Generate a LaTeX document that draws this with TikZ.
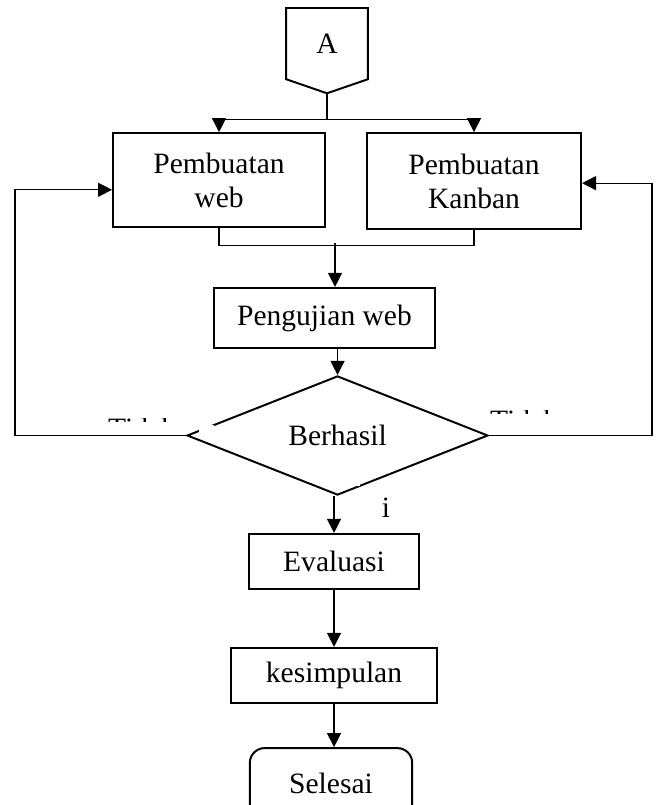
\documentclass[tikz,border=0pt]{standalone}
\usepackage{fontspec}
\setmainfont{Liberation Serif}
\usetikzlibrary{positioning,arrows.meta,shapes.geometric,shapes.symbols,calc}

\begin{document}
\begin{tikzpicture}[
  >={Triangle[length=2.0mm,width=2.0mm]},
  every node/.style={inner sep=2pt},
  basebox/.style={
    rectangle, draw=black, line width=0.8pt,
    align=center, inner sep=0pt,
    font=\fontsize{12}{13.8}\selectfont,
  },
  connbox/.style={basebox, shape=signal, signal to=south,
    signal pointer angle=142,
    minimum width=1.17cm, minimum height=1.07cm},
  procbox/.style={basebox},
  decbox/.style={basebox, shape=diamond,
    minimum width=4.30cm, minimum height=1.50cm},
  endbox/.style={basebox, rounded corners=6pt},
  lbl/.style={inner sep=0pt, font=\fontsize{12}{13.8}\selectfont},
  conn/.style={draw=black, line width=0.5pt},
  arr/.style={->, draw=black, line width=0.5pt},
]
\useasboundingbox (0,0) rectangle (9.403,-11.503);

%---------- nodes (x, y in cm from the top left) ----------
\node[connbox, anchor=north] (A) at (4.673,-0.10) {A};

\node[procbox, minimum width=3.03cm, minimum height=1.34cm] (web)
  at (3.13,-2.572) {Pembuatan\\web};
\node[procbox, minimum width=3.06cm, minimum height=1.37cm] (kanban)
  at (6.773,-2.587) {Pembuatan\\Kanban};

\node[procbox, minimum width=3.16cm, minimum height=0.86cm] (uji)
  at (4.637,-4.544) {Pengujian web};

\node[decbox] (cek) at (4.823,-6.223) {Berhasil};

\node[procbox, minimum width=2.43cm, minimum height=0.79cm] (eval)
  at (4.773,-8.024) {Evaluasi};
\node[procbox, minimum width=2.94cm, minimum height=0.79cm] (simpul)
  at (4.773,-9.653) {kesimpulan};
\node[endbox, minimum width=2.32cm, minimum height=1.00cm] (selesai)
  at (4.73,-11.19) {Selesai};

%---------- arrows ----------
\draw[conn] (A.south) -- ++(0,-0.357) coordinate (split);
\draw[arr] (split) -| (web.north);
\draw[arr] (split) -| (kanban.north);

\draw[conn] (web.south) -- ++(0,-0.256) coordinate (joinl) -| (kanban.south);
\coordinate (joinm) at (4.787,-3.47);
\draw[arr] (joinm) -- (joinm |- uji.north);

\draw[arr] (uji.south -| cek.north) -- (cek.north);

\draw[arr] (cek.west) -- ++(-2.443,0) |- ([yshift=-0.14cm]web.west);
\draw[arr] (cek.east) -- ++(2.33,0) |- ([yshift=-0.03cm]kanban.east);

\draw[arr] (eval.north |- cek.south) -- (eval.north);
\draw[arr] (eval) -- (simpul);
\draw[arr] (simpul.south) -- (simpul.south |- selesai.north);

%---------- branch labels (cut off by their boxes) ----------
\fill[white] (2.844,-6.073) rectangle (3.058,-6.173);
\fill[white] (4.99,-6.80) rectangle (5.145,-6.945);
\begin{scope}
  \clip (1.43,-5.985) rectangle (3.04,-6.016);
  \node[lbl, anchor=base] (tidakkiri) at (2.03,-6.266) {Tidak};
\end{scope}
\begin{scope}
  \clip (6.86,-5.871) rectangle (8.00,-5.902);
  \node[lbl, anchor=base] (tidakkanan) at (7.488,-6.152) {Tidak};
\end{scope}
\node[lbl] (ya) at (5.516,-7.259) {i};

\end{tikzpicture}
\end{document}
